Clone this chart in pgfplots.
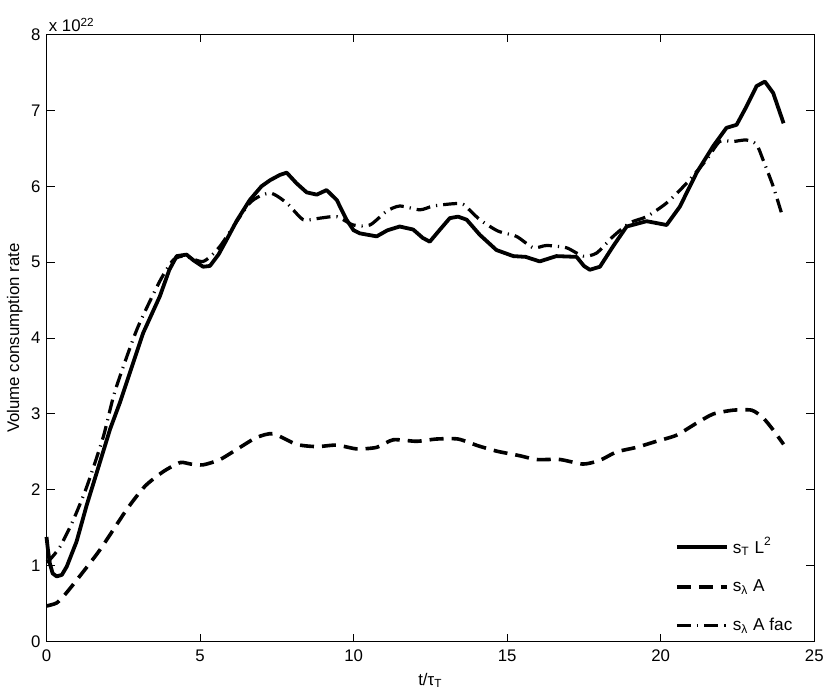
\documentclass[border=0pt]{standalone}
\usepackage{pgfplots}
\pgfplotsset{compat=1.18}
\usepackage{fontspec}
\setmainfont{Liberation Sans}
\begin{document}
\fontsize{8.4}{10}\selectfont
\begin{tikzpicture}
\begin{axis}[
    scale only axis,
    width=383.9pt,
    height=303.6pt,
    xmin=0, xmax=25,
    ymin=0, ymax=8,
    xtick={0,5,...,25},
    ytick={0,1,...,8},
    tick align=inside,
    major tick length=4pt,
    axis line style={line width=0.5pt},
    tick style={line width=0.5pt, black},
    /pgf/number format/assume math mode=true,
    tick label style={font=\fontsize{8.4}{10}\selectfont},
    xticklabel style={yshift=-1pt},
    xlabel={t/τ\textsubscript{T}},
    ylabel={Volume consumption rate},
    xlabel style={font=\fontsize{8.4}{10}\selectfont, yshift=0pt},
    ylabel style={font=\fontsize{8.4}{10}\selectfont, yshift=-1.5pt},
    legend style={at={(0.985,0.0)}, anchor=south east, draw=none, fill=none,
        font=\fontsize{8.6}{10}\selectfont, row sep=8pt, cells={anchor=west}},
    legend image code/.code={\draw[#1] plot coordinates {(0cm,0cm) (0.88cm,0cm)};},
    clip=false,
]
\addplot[black, line width=1.9pt, line join=round] coordinates {
(0,1.38) (0.05,1.2) (0.11,1.03) (0.2,0.9) (0.33,0.86) (0.5,0.88) (0.66,0.99)
(0.98,1.32) (1.31,1.8) (1.63,2.22) (2.07,2.8) (2.39,3.15) (2.72,3.55)
(3.15,4.07) (3.69,4.55) (4.0,4.9) (4.24,5.08) (4.56,5.1) (4.8,5.02) (5.1,4.94)
(5.32,4.95) (5.6,5.1) (5.87,5.3) (6.2,5.55) (6.62,5.82) (7.0,6.0) (7.28,6.08)
(7.6,6.15) (7.82,6.18) (8.14,6.04) (8.47,5.92) (8.8,5.89) (9.12,5.95) (9.45,5.82)
(9.77,5.56) (10.0,5.42) (10.2,5.38) (10.75,5.34) (11.1,5.42) (11.5,5.47) (11.94,5.43)
(12.25,5.32) (12.48,5.27) (12.75,5.4) (13.13,5.58) (13.4,5.6) (13.68,5.56) (14.11,5.36)
(14.65,5.16) (15.2,5.08) (15.6,5.07) (16.06,5.01) (16.6,5.08) (17.26,5.07) (17.5,4.95)
(17.69,4.9) (18.02,4.94) (18.45,5.21) (18.89,5.47) (19.54,5.54) (20.19,5.49) (20.62,5.73)
(21.17,6.18) (21.71,6.53) (22.14,6.77) (22.47,6.81) (22.79,7.05) (23.12,7.32) (23.39,7.38)
(23.66,7.23) (24.0,6.83)
};
\addlegendentry{s\textsubscript{T} L\textsuperscript{2}}
\addplot[black, line width=1.8pt, dash pattern=on 7pt off 4pt, smooth, tension=0.4] coordinates {
(0,0.47) (0.33,0.51) (0.6,0.62) (0.98,0.81) (1.74,1.21) (2.61,1.74) (3.21,2.05)
(3.8,2.24) (4.35,2.36) (4.7,2.34) (5.1,2.33) (5.65,2.4) (6.3,2.56) (6.84,2.69)
(7.38,2.74) (8.14,2.6) (8.8,2.57) (9.45,2.59) (10.1,2.54) (10.75,2.56) (11.29,2.66)
(12.05,2.64) (12.7,2.67) (13.4,2.67) (14.06,2.58) (14.66,2.51) (15.41,2.45) (15.96,2.4)
(16.72,2.4) (17.47,2.34) (18.02,2.39) (18.56,2.5) (19.21,2.56) (19.86,2.64) (20.51,2.72)
(21.17,2.88) (21.71,3.0) (22.36,3.05) (22.96,3.05) (23.33,2.95) (23.66,2.79) (24.0,2.6)
};
\addlegendentry{s\textsubscript{λ} A}
\addplot[black, line width=1.6pt, dash pattern=on 7pt off 3pt on 0.6pt off 3pt, smooth, tension=0.4] coordinates {
(0,1.05) (0.11,1.08) (0.44,1.25) (0.87,1.6) (1.31,2.04) (1.85,2.7) (2.23,3.3) (2.94,4.11) (3.69,4.75)
(4.13,5.03) (4.5,5.08) (5.1,5.01) (5.65,5.21) (6.62,5.78) (7.28,5.91) (7.82,5.78)
(8.36,5.56) (8.9,5.58) (9.45,5.6) (9.99,5.49) (10.53,5.49) (11.07,5.67) (11.5,5.74)
(12.16,5.69) (12.59,5.74) (13.24,5.77) (13.57,5.76) (14.11,5.56) (14.7,5.41) (15.3,5.34)
(15.85,5.19) (16.28,5.22) (16.93,5.19) (17.47,5.08) (17.91,5.12) (18.45,5.34) (19.0,5.52)
(19.54,5.6) (20.19,5.78) (20.84,6.04) (21.49,6.35) (21.92,6.59) (22.36,6.59) (22.79,6.61)
(23.12,6.55) (23.33,6.35) (23.66,6.0) (23.93,5.65)
};
\addlegendentry{s\textsubscript{λ} A fac}
\node[anchor=south west, inner sep=1pt, font=\fontsize{8.4}{10}\selectfont] at (rel axis cs:0,1) {x 10\textsuperscript{22}};
\coordinate (bl) at (rel axis cs:0,0);
\coordinate (tr) at (rel axis cs:1,1);
\end{axis}
\pgfresetboundingbox
\path ([shift={(-23.25pt,-26.15pt)}]bl) rectangle ([shift={(7.85pt,17.25pt)}]tr);
\end{tikzpicture}
\end{document}
